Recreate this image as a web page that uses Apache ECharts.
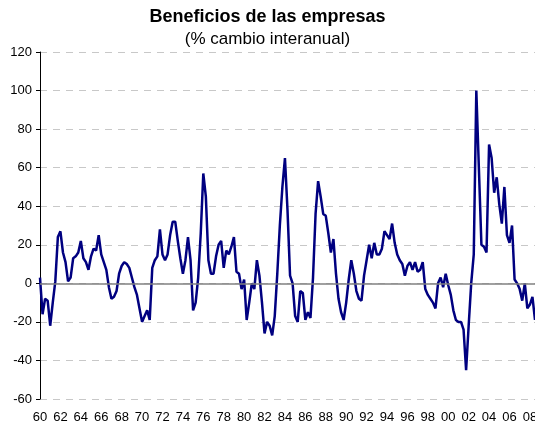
<!DOCTYPE html>
<html>
<head>
<meta charset="utf-8">
<script src="https://cdn.jsdelivr.net/npm/echarts@6/dist/echarts.min.js"></script>
<style>
  html, body { margin: 0; padding: 0; background: #fff; }
  #chart { width: 535px; height: 432px; }
</style>
</head>
<body>
<div id="chart"></div>
<script>
// beneficios empresariales, % cambio interanual, datos trimestrales 1960 T1 - 2008 T3
const firstYear = 1960
const yearTicks = ['60', '62', '64', '66', '68', '70', '72', '74', '76', '78', '80', '82',
  '84', '86', '88', '90', '92', '94', '96', '98', '00', '02', '04', '06', '08']

const beneficios = [
  3, -16, -8, -9, -22, -10, 1, 24,          // 60-61
  27, 16, 11, 1, 3, 13, 14, 16,             // 62-63
  22, 13, 11, 7, 14, 18, 17, 25,            // 64-65
  15, 11, 7, -2, -8, -7, -4, 5,             // 66-67
  9, 11, 10, 8, 3, -2, -6, -13,             // 68-69
  -20, -17, -14, -19, 8, 12, 14, 28,        // 70-71
  15, 12, 15, 25, 32, 32, 22, 13,           // 72-73
  5, 12, 24, 12, -14, -10, 3, 26,           // 74-75
  57, 45, 12, 5, 5, 14, 20, 22,             // 76-77
  8, 17, 15, 19, 24, 6, 5, -3,              // 78-79
  2, -19, -10, 0, -3, 12, 4, -10,           // 80-81
  -26, -20, -22, -27, -17, 5, 30, 50,       // 82-83
  65, 38, 4, 0, -17, -20, -4, -5,           // 84-85
  -19, -15, -18, 3, 36, 53, 45, 36,         // 86-87
  35, 26, 16, 23, 5, -8, -15, -19,          // 88-89
  -10, 2, 12, 5, -4, -8, -9, 4,             // 90-91
  12, 20, 13, 21, 15, 15, 18, 27,           // 92-93
  25, 23, 31, 21, 15, 12, 10, 4,            // 94-95
  9, 11, 7, 11, 6, 7, 11, -3,               // 96-97
  -6, -8, -10, -13, 0, 3, -2, 5,            // 98-99
  -1, -6, -14, -19, -20, -20, -24, -45,     // 00-01
  -22, 0, 15, 100, 60, 20, 19, 16,          // 02-03
  72, 65, 47, 55, 41, 31, 50, 25,           // 04-05
  21, 30, 2, 0, -3, -9, 0, -13,             // 06-07
  -11, -7, -19                              // 08
]

const trimestres = beneficios.map((v, i) => (firstYear + Math.floor(i / 4)) + ' T' + (i % 4 + 1))

const chart = echarts.init(document.getElementById('chart'))

chart.setOption({
  animation: false,
  textStyle: { fontFamily: 'Liberation Sans, Arial, sans-serif' },
  title: [
    {
      text: 'Beneficios de las empresas',
      left: 'center',
      top: 3,
      textStyle: { fontSize: 18, fontWeight: 'bold', color: '#000' }
    },
    {
      text: '(% cambio interanual)',
      left: 'center',
      top: 26,
      textStyle: { fontSize: 17, fontWeight: 'normal', color: '#000' }
    }
  ],
  grid: { left: 40, right: 0, top: 52, bottom: 33, outerBoundsMode: 'none', containLabel: false },
  xAxis: {
    type: 'category',
    data: trimestres,
    boundaryGap: false,
    axisLine: { show: false },
    axisTick: { show: false },
    splitLine: { show: false },
    axisLabel: {
      interval: 7,
      margin: 12,
      fontSize: 13,
      color: '#000',
      hideOverlap: false,
      formatter: (value, index) => yearTicks[index / 8] || ''
    }
  },
  yAxis: {
    type: 'value',
    min: -60,
    max: 120,
    interval: 20,
    axisLine: { show: true, lineStyle: { color: '#000', width: 1 } },
    axisTick: { show: true, length: 4, lineStyle: { color: '#000' } },
    axisLabel: { fontSize: 13, color: '#000', margin: 8 },
    splitLine: {
      show: true,
      lineStyle: { color: '#c8c8c8', type: [7, 6], width: 1 }
    }
  },
  series: [
    {
      type: 'line',
      data: beneficios,
      showSymbol: false,
      smooth: false,
      lineStyle: { color: '#000080', width: 2.5 },
      markLine: {
        silent: true,
        symbol: 'none',
        label: { show: false },
        lineStyle: { color: '#808080', type: 'solid', width: 1.5 },
        data: [{ yAxis: 0 }]
      },
      z: 3
    }
  ]
})
</script>
</body>
</html>
